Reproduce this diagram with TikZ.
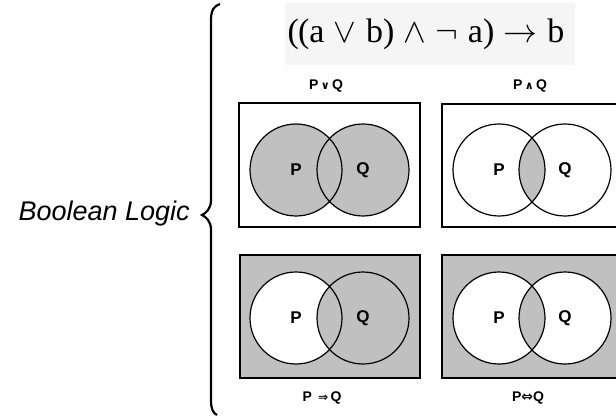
\documentclass[tikz,border=0pt]{standalone}
\usepackage{fix-cm}
\usepackage{fontspec}
\setmainfont{Liberation Serif}
\newfontfamily\hv{Liberation Sans}
\newfontfamily\dv{DejaVu Sans}
\definecolor{venngray}{RGB}{192,192,192}
\definecolor{formbg}{RGB}{245,245,245}
\begin{document}
\begin{tikzpicture}[x=1pt,y=-1pt,
  frame/.style={line width=1.3pt},
  ring/.style={line width=1.2pt},
  setlab/.style={font=\hv\bfseries\fontsize{17}{17}\selectfont, inner sep=0},
  oplab/.style={font=\hv\bfseries\fontsize{14}{14}\selectfont, inner sep=0},
]
\useasboundingbox (0,0) rectangle (616,417);
\clip (0,0) rectangle (616,417);

% formula
\fill[formbg] (285,3) rectangle (575,65);
\node[font=\fontsize{34}{34}\selectfont, inner sep=0] (formula) at (426,34)
  {(\kern-1pt(a\;$\vee$\;b)\;$\wedge$\;$\neg$\;a)\;$\rightarrow$\;b};

% title and brace
\node[font=\hv\itshape\fontsize{27}{27}\selectfont, anchor=base east, inner sep=0] (title) at (190,220) {Boolean Logic};
\draw[line width=2.2pt] (220,4) .. controls (214,6) and (211,10) .. (211,20) -- (211,200)
  .. controls (211,209) and (206,213) .. (202,215)
  .. controls (206,217) and (211,221) .. (211,230) -- (211,400)
  .. controls (211,409) and (213,413) .. (217,415);

% centres
\coordinate (aP) at (296,170); \coordinate (aQ) at (363,170);
\coordinate (bP) at (499,170); \coordinate (bQ) at (565,170);
\coordinate (cP) at (296,318); \coordinate (cQ) at (363,318);
\coordinate (dP) at (499,318); \coordinate (dQ) at (565,318);
\def\rr{46}

% box 1: P or Q
\draw[frame, fill=white] (239,103) rectangle (420,227);
\fill[venngray] (aP) circle (\rr) (aQ) circle (\rr);
\draw[ring] (aP) circle (\rr) (aQ) circle (\rr);

% box 2: P and Q
\draw[frame, fill=white] (442,104) rectangle (623,227);
\begin{scope}\clip (bP) circle (\rr); \fill[venngray] (bQ) circle (\rr);\end{scope}
\draw[ring] (bP) circle (\rr) (bQ) circle (\rr);

% box 3: P implies Q
\draw[frame, fill=venngray] (240,255) rectangle (420,378);
\fill[white] (cP) circle (\rr);
\begin{scope}\clip (cP) circle (\rr); \fill[venngray] (cQ) circle (\rr);\end{scope}
\draw[ring] (cP) circle (\rr) (cQ) circle (\rr);

% box 4: P iff Q
\draw[frame, fill=venngray] (442,255) rectangle (623,378);
\fill[white] (dP) circle (\rr) (dQ) circle (\rr);
\begin{scope}\clip (dP) circle (\rr); \fill[venngray] (dQ) circle (\rr);\end{scope}
\draw[ring] (dP) circle (\rr) (dQ) circle (\rr);

% set labels
\foreach \b in {a,b,c,d}{
  \node[setlab] (\b Plab) at (\b P) {P};
  \node[setlab] (\b Qlab) at (\b Q) {Q};
}

% operation labels
\node[oplab] (orlab) at (326,86) {P\,{\dv\fontsize{11}{11}\selectfont ∨}\,Q};
\node[oplab] (andlab) at (530,86) {P\,{\dv\fontsize{11}{11}\selectfont ∧}\,Q};
\node[oplab] (implab) at (322,398) {P \,{\dv\fontsize{12}{12}\selectfont ⇒}\,Q};
\node[oplab] (ifflab) at (528,398) {P{\dv\fontsize{14}{14}\selectfont ⇔}Q};
\end{tikzpicture}
\end{document}
